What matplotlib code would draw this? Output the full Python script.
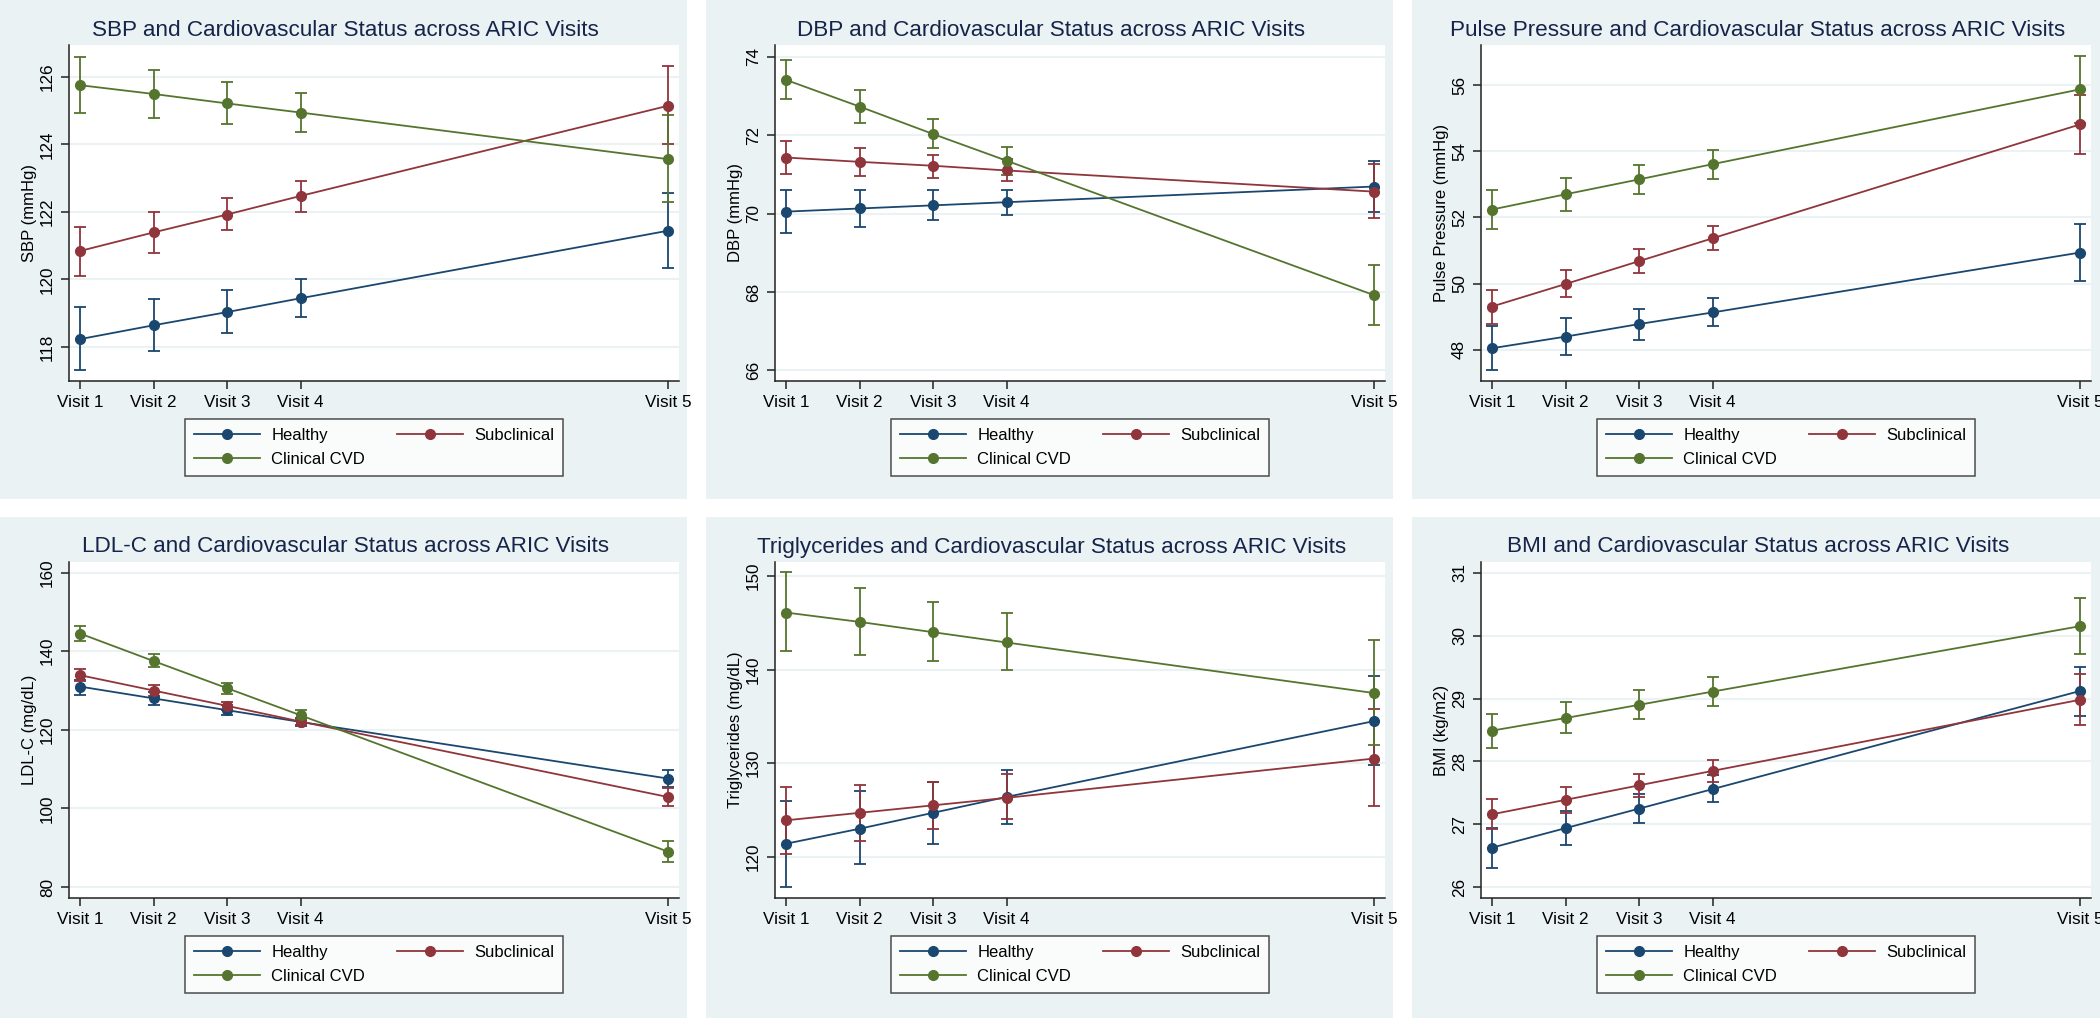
import matplotlib
matplotlib.use("Agg")
import matplotlib.pyplot as plt
import numpy as np
from matplotlib.patches import Rectangle

plt.rcParams['font.family'] = ['Liberation Sans', 'DejaVu Sans']

visits = [1, 2, 3, 4, 9]
visit_labels = ["Visit 1", "Visit 2", "Visit 3", "Visit 4", "Visit 5"]
groups = ["Healthy", "Subclinical", "Clinical CVD"]
colors = ["#1A476F", "#90353B", "#55752F"]

# each list: Healthy, Subclinical, Clinical CVD
sbp_mean = [[118.23, 118.64, 119.03, 119.44, 121.44],
            [120.84, 121.39, 121.92, 122.47, 125.14],
            [125.75, 125.49, 125.21, 124.94, 123.56]]
sbp_lo = [[117.31, 117.87, 118.41, 118.88, 120.34],
          [120.11, 120.79, 121.45, 122.00, 124.00],
          [124.92, 124.79, 124.60, 124.36, 122.28]]
sbp_hi = [[119.19, 119.41, 119.67, 120.00, 122.56],
          [121.56, 121.98, 122.41, 122.92, 126.31],
          [126.59, 126.20, 125.83, 125.53, 124.87]]

dbp_mean = [[70.05, 70.13, 70.21, 70.29, 70.69],
            [71.43, 71.32, 71.22, 71.10, 70.56],
            [73.41, 72.73, 72.03, 71.35, 67.92]]
dbp_lo = [[69.50, 69.67, 69.83, 69.96, 70.03],
          [71.00, 70.97, 70.92, 70.83, 69.88],
          [72.92, 72.31, 71.68, 70.99, 67.17]]
dbp_hi = [[70.61, 70.59, 70.59, 70.61, 71.33],
          [71.86, 71.68, 71.50, 71.38, 71.27],
          [73.91, 73.15, 72.41, 71.71, 68.69]]

pp_mean = [[48.05, 48.40, 48.78, 49.13, 50.94],
           [49.31, 49.99, 50.68, 51.37, 54.81],
           [52.24, 52.70, 53.15, 53.61, 55.87]]
pp_lo = [[47.39, 47.86, 48.30, 48.71, 50.09],
         [48.79, 49.59, 50.32, 51.03, 53.91],
         [51.66, 52.21, 52.72, 53.16, 54.86]]
pp_hi = [[48.73, 48.96, 49.24, 49.57, 51.80],
         [49.82, 50.41, 51.04, 51.73, 55.71],
         [52.83, 53.19, 53.60, 54.04, 56.87]]

ldl_mean = [[131.0, 128.0, 125.0, 122.0, 107.6],
            [133.9, 130.0, 126.1, 122.1, 102.9],
            [144.5, 137.5, 130.6, 123.7, 89.0]]
ldl_lo = [[128.9, 126.4, 123.7, 121.0, 105.5],
          [132.3, 128.7, 125.1, 121.2, 100.6],
          [142.7, 135.9, 129.1, 122.5, 86.4]]
ldl_hi = [[132.8, 129.5, 126.3, 123.1, 109.7],
          [135.5, 131.3, 127.1, 123.1, 105.2],
          [146.5, 139.2, 132.0, 125.0, 91.7]]

tg_mean = [[121.4, 123.0, 124.7, 126.4, 134.5],
           [123.9, 124.7, 125.5, 126.3, 130.5],
           [146.1, 145.1, 144.0, 142.9, 137.5]]
tg_lo = [[116.8, 119.2, 121.4, 123.5, 129.8],
         [120.3, 121.7, 123.0, 124.0, 125.4],
         [142.0, 141.6, 140.9, 140.0, 131.9]]
tg_hi = [[126.0, 127.0, 128.0, 129.3, 139.3],
         [127.5, 127.7, 128.0, 128.8, 135.8],
         [150.4, 148.7, 147.2, 146.0, 143.2]]

bmi_mean = [[26.63, 26.94, 27.25, 27.56, 29.12],
            [27.16, 27.39, 27.62, 27.85, 28.98],
            [28.49, 28.69, 28.90, 29.11, 30.15]]
bmi_lo = [[26.31, 26.67, 27.02, 27.35, 28.73],
          [26.92, 27.18, 27.44, 27.67, 28.58],
          [28.21, 28.45, 28.68, 28.88, 29.70]]
bmi_hi = [[26.94, 27.21, 27.49, 27.78, 29.50],
          [27.40, 27.60, 27.80, 28.03, 29.39],
          [28.76, 28.94, 29.13, 29.34, 30.60]]

panels = [
    ("SBP", "SBP (mmHg)", sbp_mean, sbp_lo, sbp_hi, [118, 120, 122, 124, 126], (116.99, 126.94)),
    ("DBP", "DBP (mmHg)", dbp_mean, dbp_lo, dbp_hi, [66, 68, 70, 72, 74], (65.73, 74.3)),
    ("Pulse Pressure", "Pulse Pressure (mmHg)", pp_mean, pp_lo, pp_hi, [48, 50, 52, 54, 56], (47.06, 57.21)),
    ("LDL-C", "LDL-C (mg/dL)", ldl_mean, ldl_lo, ldl_hi, [80, 100, 120, 140, 160], (77.2, 162.7)),
    ("Triglycerides", "Triglycerides (mg/dL)", tg_mean, tg_lo, tg_hi, [120, 130, 140, 150], (115.6, 151.5)),
    ("BMI", "BMI (kg/m2)", bmi_mean, bmi_lo, bmi_hi, [26, 27, 28, 29, 30, 31], (25.83, 31.17)),
]

W, H = 2100, 1018
fig = plt.figure(figsize=(W / 100, H / 100), dpi=100, facecolor="white")
bg = "#EAF2F3"
title_color = "#15244A"

col_x = [0, 706, 1412]
row_y = [0, 517]
panel_w = [687, 687, 688]
panel_h = [499, 501]

for i, (name, ylab, mean, lo, hi, yticks, ylim) in enumerate(panels):
    r, c = divmod(i, 3)
    px, py = col_x[c], row_y[r]
    # panel background, behind the axes
    fig.patches.append(Rectangle((px / W, 1 - (py + panel_h[r]) / H), panel_w[c] / W, panel_h[r] / H,
                                 transform=fig.transFigure, facecolor=bg, edgecolor="none", zorder=-5))
    left, right, top, bottom = px + 69, px + 679, py + 45, py + 381
    ax = fig.add_axes([left / W, 1 - bottom / H, (right - left) / W, (bottom - top) / H])
    ax.set_facecolor("white")
    handles = []
    for g in range(3):
        m = np.array(mean[g])
        yerr = [m - np.array(lo[g]), np.array(hi[g]) - m]
        ax.errorbar(visits, m, yerr=yerr, fmt="none", ecolor=colors[g], elinewidth=1.3,
                    capsize=4.5, capthick=1.3, zorder=3)
        h, = ax.plot(visits, m, "-o", color=colors[g], lw=1.3, ms=7, zorder=4, label=groups[g])
        handles.append(h)
    ax.set_xlim(0.85, 9.15)
    ax.set_ylim(*ylim)
    ax.set_xticks(visits)
    ax.set_xticklabels(visit_labels, fontsize=12.3)
    ax.set_yticks(yticks)
    ax.set_yticklabels([str(t) for t in yticks], fontsize=12.3, rotation=90, va="center")
    ax.grid(axis="y", color=bg, lw=1.5)
    ax.set_axisbelow(True)
    for s in ["top", "right"]:
        ax.spines[s].set_visible(False)
    for s in ["left", "bottom"]:
        ax.spines[s].set_color("#222222")
        ax.spines[s].set_linewidth(1.1)
    ax.tick_params(direction="out", length=6, width=1.1, color="#222222", pad=4)
    ax.set_ylabel(ylab, fontsize=12)
    ax.yaxis.set_label_coords(-0.052, 0.5)
    fig.text((px + panel_w[c] / 2 + 2) / W, 1 - (py + 30) / H,
             f"{name} and Cardiovascular Status across ARIC Visits",
             fontsize=16.2, color=title_color, ha="center", va="center")
    leg = ax.legend([handles[0], handles[2], handles[1]], [groups[0], groups[2], groups[1]],
                    ncol=2, loc="upper center", bbox_to_anchor=(0.5, -0.113), borderaxespad=0,
                    fontsize=12, frameon=True, fancybox=False, edgecolor="#222222",
                    handlelength=4.0, handletextpad=0.65, columnspacing=1.9,
                    borderpad=0.55, labelspacing=0.55)
    leg.get_frame().set_linewidth(1.1)

fig.savefig("out.png", dpi=100, facecolor="white")
